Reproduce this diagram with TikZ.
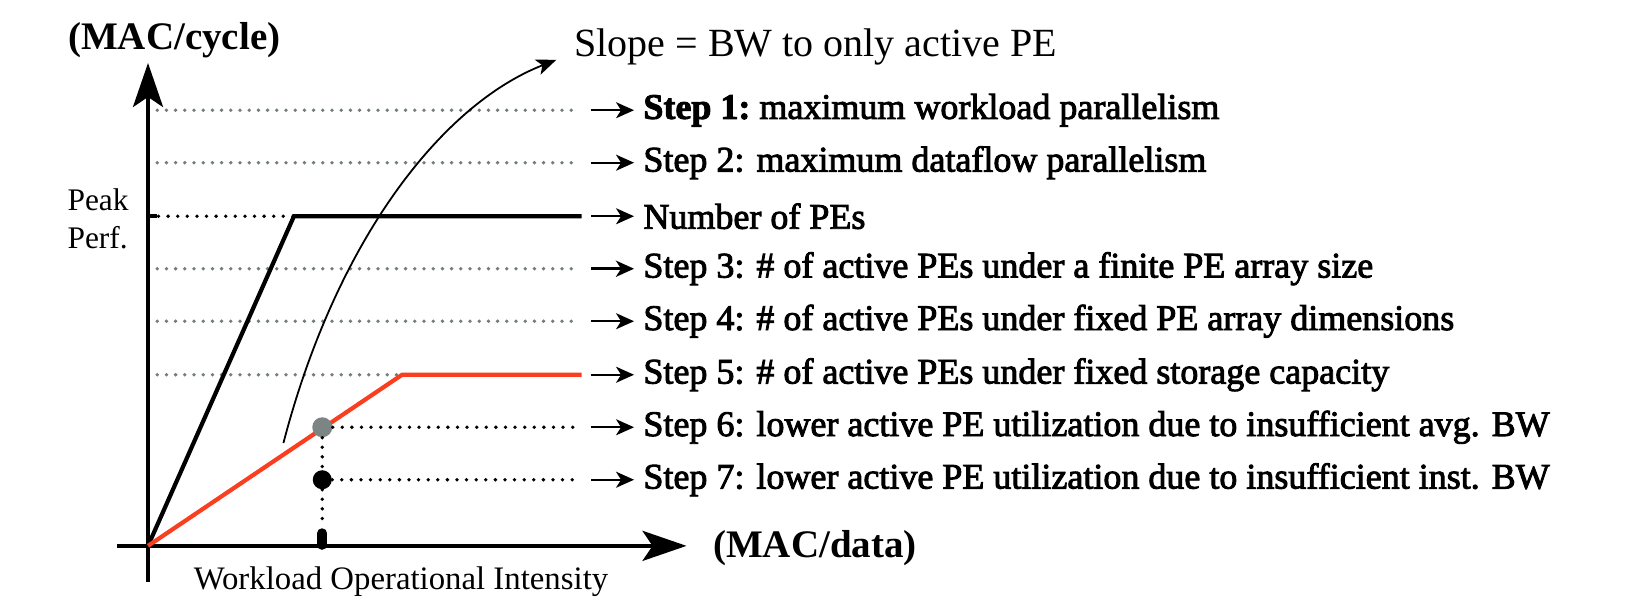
\documentclass[tikz,border=0pt]{standalone}
\usepackage{fontspec}
\setmainfont{Liberation Serif}
\newfontfamily\stepfont[FakeBold=2.5]{Liberation Serif}
\usepackage{tikz}
\usetikzlibrary{arrows.meta}
\usetikzlibrary{positioning,calc}
\definecolor{rooflinered}{RGB}{250,62,32}
\definecolor{guidegray}{RGB}{115,125,125}
\definecolor{pointgray}{RGB}{125,132,132}

\tikzset{
  axisline/.style={line width=2pt,-{Stealth[length=22pt,width=15pt,inset=5pt]}},
  roofline/.style={line width=2.1pt,line join=miter},
  guideline/.style={guidegray,line width=1.9pt,line cap=round,dash pattern=on 0pt off 4.6pt},
  levelline/.style={black,line width=1.9pt,line cap=round,dash pattern=on 0pt off 4.8pt},
  steparrow/.style={-{Stealth[length=9pt,width=8pt,inset=2.5pt]}},
  steptext/.style={anchor=west,inner sep=4.5pt,font=\fontsize{18}{21}\stepfont},
  dotnode/.style={circle,inner sep=0pt,minimum size=#1},
}

\begin{document}
\begin{tikzpicture}[x=0.5249pt,y=-0.5249pt]
  \useasboundingbox (0,0) rectangle (1568,585);
  % key points of the plot
  \coordinate (O) at (141,520);
  \coordinate (ytop) at (141,60);
  \coordinate (ybot) at (141,554);
  \coordinate (xleft) at (111,520);
  \coordinate (xright) at (654,520);
  \coordinate (peakknee) at (280,206);
  \coordinate (peakend) at (554,206);
  \coordinate (redknee) at (383,357);
  \coordinate (redend) at (554,357);

  % gray guide lines
  \foreach \y in {105,155,256,306}{
    \draw[guideline] (141,\y) -- (551,\y);}
  \draw[guideline] (141,357) -- (redknee);

  % axes
  \draw[line width=2pt] (O) -- (ybot);
  \draw[axisline] (O) -- (ytop);
  \draw[line width=2pt] (O) -- (xleft);
  \draw[axisline] (O) -- (xright);
  \node[font=\fontsize{19.5}{22}\selectfont\bfseries,inner sep=0pt] (ylabel) at (166,38) {(MAC/cycle)};
  \node[font=\fontsize{19.5}{22}\selectfont\bfseries,inner sep=0pt,anchor=west] (xlabel) at (679,522) {(MAC/data)};
  \node[font=\fontsize{16.4}{20}\selectfont,inner sep=0pt] (xname) at (382,554) {Workload Operational Intensity};
  \node[font=\fontsize{15.7}{19}\selectfont,inner sep=0pt,align=left,anchor=west] (peak) at (64,208) {Peak\\Perf.};

  % slope annotation
  \node[font=\fontsize{20}{24}\selectfont,inner sep=0pt,anchor=west] (slope) at (547,45) {Slope = BW to only active PE};
  \coordinate (bwstart) at (270,422);
  \coordinate (bwend) at (530,57);
  \draw[line width=0.9pt,-{Stealth[length=10pt,width=8pt,inset=2.5pt]}] (bwstart) .. controls (320,230) and (420,100) .. (bwend);

  % peak performance
  \coordinate (peakdots) at (308,206);
  \draw[levelline] ($(O|-peakknee)+(10,0)$) -- (peakdots);
  \draw[line width=2pt] (O|-peakknee) -- ++(9,0);
  \draw[roofline] (O) -- (peakknee) -- (peakend);

  % bandwidth limited roofline
  \draw[roofline,rooflinered] (O) -- (redknee) -- (redend);

  % operating points
  \node[dotnode=10pt,fill=pointgray] (avgpt) at (307,407) {};
  \node[dotnode=9.5pt,fill=black] (instpt) at (307,457) {};
  \coordinate (tick) at (307,519);
  \coordinate (avgend) at (551,407);
  \coordinate (instend) at (551,457);
  \draw[levelline] (avgpt.east) -- (avgend);
  \draw[levelline] (instpt.east) -- (instend);
  \draw[levelline] (avgpt.south) -- (instpt.north);
  \draw[levelline] (instpt.south) -- ($(tick)+(0,-16)$);
  \draw[line width=5pt,line cap=round] ($(tick)+(0,-11)$) -- (tick);

  % step labels
  \foreach \k/\y/\w/\txt in {
      1/105/1pt/{\bfseries Step 1:\mdseries\ maximum workload parallelism},
      2/155/1pt/{Step 2: maximum dataflow parallelism},
      pe/206/1pt/{Number of PEs},
      3/256/1.6pt/{Step 3: \# of active PEs under a finite PE array size},
      4/306/1pt/{Step 4: \# of active PEs under fixed PE array dimensions},
      5/357/1pt/{Step 5: \# of active PEs under fixed storage capacity},
      6/407/1pt/{Step 6: lower active PE utilization due to insufficient avg. BW},
      7/457/1pt/{Step 7: lower active PE utilization due to insufficient inst. BW}}{
    \coordinate (a\k) at (563,\y);
    \node[steptext] (step\k) at (604,\y) {\txt};
    \draw[steparrow,line width=\w] (a\k) -- (step\k.west);
  }
\end{tikzpicture}
\end{document}
